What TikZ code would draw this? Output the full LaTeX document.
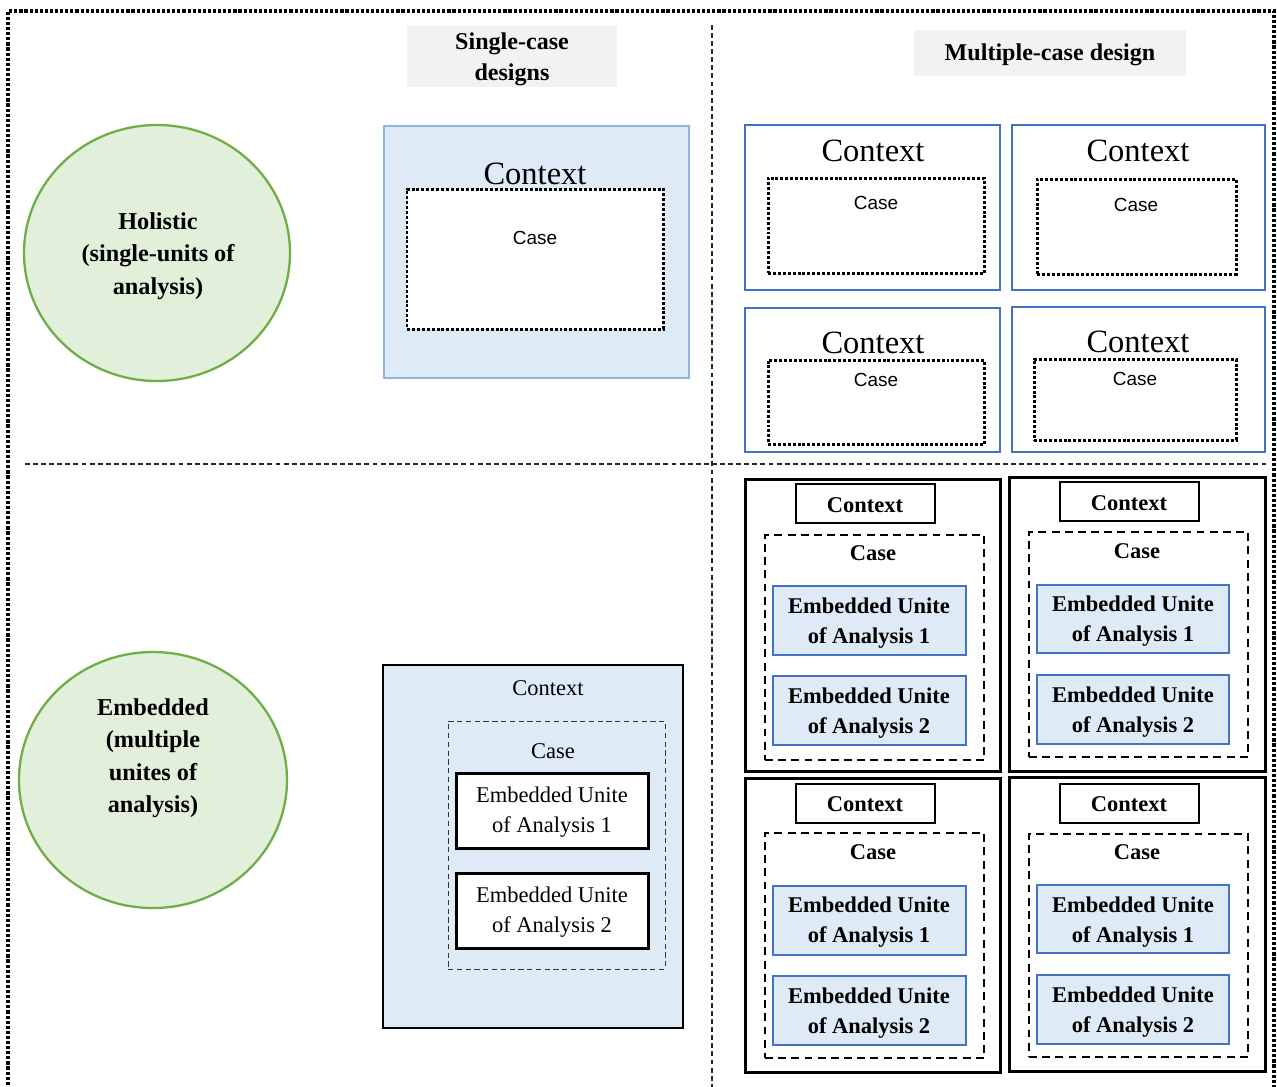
\documentclass[tikz,border=0pt]{standalone}
\usepackage{fontspec}
\setmainfont{Liberation Serif}
\newfontfamily\arialf{Liberation Sans}
\usetikzlibrary{fit,shapes.geometric}
\definecolor{lblue}{HTML}{DEEBF7}
\definecolor{mblue}{HTML}{4472C4}
\definecolor{pblue}{HTML}{8FB4E3}
\definecolor{lgreen}{HTML}{E2EFDA}
\definecolor{dgreen}{HTML}{70AD47}
\definecolor{hgray}{HTML}{F2F2F2}
\begin{document}
\begin{tikzpicture}[x=0.02cm,y=-0.02cm,
  box/.style={inner sep=0pt,outer sep=0pt},
  hdr/.style={box,fill=hgray,align=center,font=\bfseries\fontsize{13.7}{17.6}\selectfont},
  lens/.style={ellipse,fill=lgreen,draw=dgreen,line width=1.3pt,inner sep=0pt},
  lenstxt/.style={align=center,font=\bfseries\fontsize{13.8}{18.5}\selectfont},
  ctxA/.style={box,fill=lblue,draw=pblue,line width=0.7pt},
  ctxB/.style={box,fill=white,draw=mblue,line width=1.5pt},
  casedot/.style={box,fill=white,draw=black,line width=1.7pt,dash pattern=on 1.7pt off 1.1pt},
  bigctx/.style={font=\fontsize{18.5}{22}\selectfont,inner sep=0pt},
  casesf/.style={font=\arialf\fontsize{10.8}{12}\selectfont,inner sep=0pt},
  ctxC/.style={box,fill=lblue,draw=black,line width=1.5pt},
  casethin/.style={box,draw=black!80,line width=0.5pt,dash pattern=on 3pt off 2pt},
  regtxt/.style={font=\fontsize{12.8}{17}\selectfont,inner sep=0pt},
  euw/.style={box,fill=white,draw=black,line width=1.7pt,align=center,font=\fontsize{12.8}{17}\selectfont},
  ctxD/.style={box,draw=black,line width=1.7pt},
  ctxlab/.style={box,draw=black,line width=1.5pt,font=\bfseries\fontsize{12.8}{15}\selectfont},
  casethick/.style={box,draw=black,line width=1.3pt,dash pattern=on 4.5pt off 3pt},
  boldtxt/.style={font=\bfseries\fontsize{12.8}{17}\selectfont,inner sep=0pt},
  eub/.style={box,fill=lblue,draw=mblue,line width=1.3pt,align=center,font=\bfseries\fontsize{12.8}{17}\selectfont},
  eubt/.style={align=center,font=\bfseries\fontsize{12.8}{17}\selectfont,inner sep=0pt},
  euwt/.style={align=center,font=\fontsize{12.8}{17}\selectfont,inner sep=0pt},
  divider/.style={draw=black!85,line width=0.6pt,dash pattern=on 2.8pt off 1.8pt}
]
\useasboundingbox (0,0) rectangle (1277,1086);
% outer dotted frame
\coordinate (f1) at (8,1090);
\coordinate (f2) at (8,11);
\coordinate (f3) at (1274,11);
\coordinate (f4) at (1274,1090);
\draw[line width=1.8pt,dash pattern=on 1.8pt off 1.1pt] (f1) -- (f2) -- (f3) -- (f4);
% dividers
\coordinate (v1) at (712,25);
\coordinate (v2) at (712,1090);
\coordinate (h1) at (25,464);
\coordinate (h2) at (1268,464);
\draw[divider] (v1) -- (v2);
\draw[divider] (h1) -- (h2);

% headers
\node[hdr,fit={(407,26) (617,87)}] (hsingle) {};
\node[align=center,inner sep=0pt,font=\bfseries\fontsize{13.7}{17.6}\selectfont] (hsingletxt) at (512,59) {Single-case\\designs};
\node[hdr,fit={(914,30) (1186,76)}] (hmulti) {};
\node[inner sep=0pt,font=\bfseries\fontsize{13.7}{17.6}\selectfont] (hmultitxt) at (1050,55) {Multiple-case design};

% left circles
\node[lens,minimum width=266*0.02cm,minimum height=256*0.02cm] (holi) at (157,253) {};
\node[lenstxt] (holitxt) at (158,256) {Holistic\\(single-units of\\analysis)};
\node[lens,minimum width=268*0.02cm,minimum height=256*0.02cm] (embc) at (153,780) {};
\node[lenstxt] (embctxt) at (153,758) {Embedded\\(multiple\\unites of\\analysis)};

% single-case holistic
\node[ctxA,fit={(384,126) (689,378)}] (sA) {};
\node[bigctx] (sActx) at (535,174) {Context};
\node[casedot,fit={(407,189) (663,329)}] (sAcase) {};
\node[casesf] (sAcasetxt) at (535,238) {Case};

% multiple-case holistic
\node[ctxB,fit={(745,125) (1000,290)}] (m1) {};
\node[bigctx] (m1ctx) at (873,151) {Context};
\node[casedot,fit={(768,178) (984,273)}] (m1case) {};
\node[casesf] (m1casetxt) at (876,203) {Case};

\node[ctxB,fit={(1012,125) (1265,290)}] (m2) {};
\node[bigctx] (m2ctx) at (1138,151) {Context};
\node[casedot,fit={(1037,179) (1236,274)}] (m2case) {};
\node[casesf] (m2casetxt) at (1136,205) {Case};

\node[ctxB,fit={(745,308) (1000,452)}] (m3) {};
\node[bigctx] (m3ctx) at (873,343) {Context};
\node[casedot,fit={(768,360) (984,444)}] (m3case) {};
\node[casesf] (m3casetxt) at (876,380) {Case};

\node[ctxB,fit={(1012,307) (1265,452)}] (m4) {};
\node[bigctx] (m4ctx) at (1138,342) {Context};
\node[casedot,fit={(1034,359) (1236,440)}] (m4case) {};
\node[casesf] (m4casetxt) at (1135,379) {Case};

% single-case embedded
\node[ctxC,fit={(383,665) (683,1028)}] (sE) {};
\node[regtxt] (sEctx) at (548,688) {Context};
\node[casethin,fit={(448,721) (665,969)}] (sEcase) {};
\node[regtxt] (sEcasetxt) at (553,751) {Case};
\node[euw,fit={(456,773) (648,848)}] (sEu1) {};
\node[euwt] (sEu1t) at (552,812) {Embedded Unite\\of Analysis 1};
\node[euw,fit={(456,873) (648,948)}] (sEu2) {};
\node[euwt] (sEu2t) at (552,912) {Embedded Unite\\of Analysis 2};

% multiple-case embedded
% TL
\node[ctxD,fit={(745,479) (1000,771)}] (e1) {};
\node[ctxlab,fit={(796,484) (935,523)}] (e1ctx) {};
\node[boldtxt] (e1ctxt) at (865,505) {Context};
\node[casethick,fit={(765,535) (984,760)}] (e1case) {};
\node[boldtxt] (e1caset) at (873,553) {Case};
\node[eub,fit={(773,586) (966,655)}] (e1u1) {};
\node[eubt] (e1u1t) at (869,623) {Embedded Unite\\of Analysis 1};
\node[eub,fit={(773,676) (966,745)}] (e1u2) {};
\node[eubt] (e1u2t) at (869,713) {Embedded Unite\\of Analysis 2};
% TR
\node[ctxD,fit={(1009,477) (1265,771)}] (e2) {};
\node[ctxlab,fit={(1060,482) (1199,521)}] (e2ctx) {};
\node[boldtxt] (e2ctxt) at (1129,503) {Context};
\node[casethick,fit={(1029,532) (1248,757)}] (e2case) {};
\node[boldtxt] (e2caset) at (1137,551) {Case};
\node[eub,fit={(1037,585) (1229,653)}] (e2u1) {};
\node[eubt] (e2u1t) at (1133,621) {Embedded Unite\\of Analysis 1};
\node[eub,fit={(1037,675) (1229,744)}] (e2u2) {};
\node[eubt] (e2u2t) at (1133,712) {Embedded Unite\\of Analysis 2};
% BL
\node[ctxD,fit={(745,778) (1000,1072)}] (e3) {};
\node[ctxlab,fit={(796,784) (935,823)}] (e3ctx) {};
\node[boldtxt] (e3ctxt) at (865,804) {Context};
\node[casethick,fit={(765,833) (984,1058)}] (e3case) {};
\node[boldtxt] (e3caset) at (873,852) {Case};
\node[eub,fit={(773,886) (966,955)}] (e3u1) {};
\node[eubt] (e3u1t) at (869,922) {Embedded Unite\\of Analysis 1};
\node[eub,fit={(773,976) (966,1045)}] (e3u2) {};
\node[eubt] (e3u2t) at (869,1013) {Embedded Unite\\of Analysis 2};
% BR
\node[ctxD,fit={(1009,777) (1265,1071)}] (e4) {};
\node[ctxlab,fit={(1060,784) (1199,823)}] (e4ctx) {};
\node[boldtxt] (e4ctxt) at (1129,804) {Context};
\node[casethick,fit={(1029,834) (1248,1057)}] (e4case) {};
\node[boldtxt] (e4caset) at (1137,852) {Case};
\node[eub,fit={(1037,885) (1229,953)}] (e4u1) {};
\node[eubt] (e4u1t) at (1133,922) {Embedded Unite\\of Analysis 1};
\node[eub,fit={(1037,975) (1229,1044)}] (e4u2) {};
\node[eubt] (e4u2t) at (1133,1012) {Embedded Unite\\of Analysis 2};
\end{tikzpicture}
\end{document}
